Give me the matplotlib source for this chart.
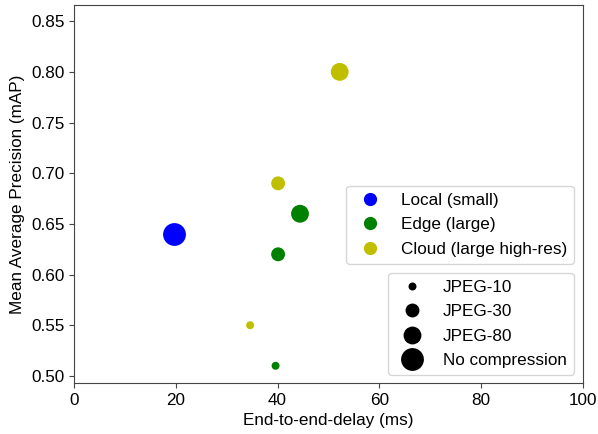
import matplotlib
matplotlib.use('Agg')
import matplotlib.pyplot as plt
from matplotlib.lines import Line2D

plt.rcParams['font.family'] = ['Liberation Sans', 'DejaVu Sans']
plt.rcParams['font.size'] = 12.3

# delay (ms), mAP, marker size per point
local_x = [19.6]
local_y = [0.64]
local_s = [270]

edge_x = [39.6, 40.1, 44.4]
edge_y = [0.51, 0.62, 0.66]
edge_s = [33, 100, 165]

cloud_x = [34.6, 40.1, 52.2]
cloud_y = [0.55, 0.69, 0.80]
cloud_s = [33, 100, 165]

size_labels = ['JPEG-10', 'JPEG-30', 'JPEG-80', 'No compression']
size_vals = [33, 100, 165, 270]

fig = plt.figure(figsize=(5.98, 4.34), dpi=100)
ax = fig.add_axes([74 / 598, 1 - 383 / 434, 509 / 598, 378 / 434])

ax.scatter(local_x, local_y, s=local_s, c='b', linewidths=0)
ax.scatter(edge_x, edge_y, s=edge_s, c='g', linewidths=0)
ax.scatter(cloud_x, cloud_y, s=cloud_s, c='y', linewidths=0)

ax.set_xlim(0, 100)
ax.set_ylim(0.493, 0.866)
ax.set_xticks([0, 20, 40, 60, 80, 100])
ax.set_yticks([0.50, 0.55, 0.60, 0.65, 0.70, 0.75, 0.80, 0.85])
ax.set_xlabel('End-to-end-delay (ms)')
ax.set_ylabel('Mean Average Precision (mAP)')
for sp in ax.spines.values():
    sp.set_color('#444444')
ax.tick_params(colors='#444444', labelcolor='black')

h1 = [Line2D([], [], ls='', marker='o', ms=9.5, mec='none', mfc=c)
      for c in ['b', 'g', 'y']]
leg1 = ax.legend(h1, ['Local (small)', 'Edge (large)', 'Cloud (large high-res)'],
                 loc='upper right', bbox_to_anchor=(0.982, 0.521),
                 borderaxespad=0, labelspacing=0.55)
ax.add_artist(leg1)

h2 = [Line2D([], [], ls='', marker='o', ms=s ** 0.5, mec='none', mfc='black')
      for s in size_vals]
ax.legend(h2, size_labels, loc='upper right', bbox_to_anchor=(0.982, 0.291),
          borderaxespad=0, labelspacing=0.55)

fig.savefig('out.png')
